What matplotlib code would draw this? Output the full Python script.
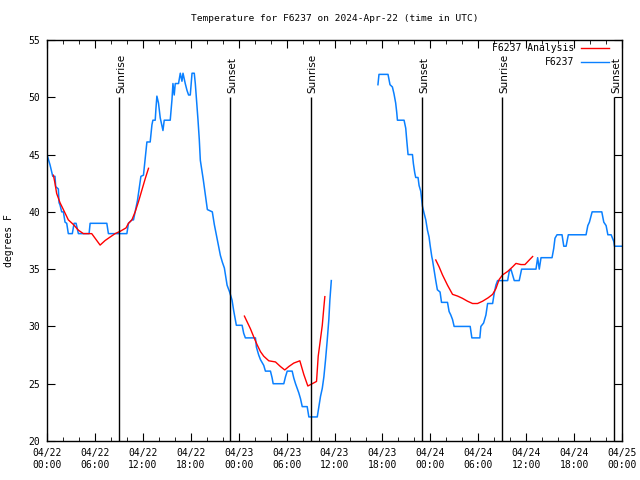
import numpy as np
import pandas as pd
import matplotlib
matplotlib.use("Agg")
import matplotlib.pyplot as plt
import matplotlib.dates as mdates
from matplotlib.lines import Line2D

nan = float("nan")
start = pd.Timestamp("2024-04-22 00:00")

# observed station temps (hours after start, degF); nan = data gap
blue_hours = [0.00, 0.38, 0.59, 0.72, 1.00, 1.09, 1.42, 1.51, 1.63, 1.84, 2.05, 2.26, 2.47, 2.67,
              3.17, 3.39, 3.64, 3.93, 5.27, 5.40, 7.49, 7.69, 10.0, 10.2, 10.63, 10.83, 11.04,
              11.33, 11.58, 11.76, 12.08, 12.30, 12.51, 12.92, 13.14, 13.26, 13.55, 13.64, 13.76,
              13.96, 14.18, 14.52, 14.68, 15.43, 15.65, 15.77, 15.93, 16.06, 16.47, 16.69, 16.90,
              17.03, 17.31, 17.53, 17.73, 17.94, 18.16, 18.44, 18.57, 18.78, 18.91, 19.07, 19.20,
              19.57, 19.82, 20.08, 20.70, 20.95, 21.20, 21.46, 21.71, 21.96, 22.21, 22.55, 22.87,
              23.17, 23.37, 23.71, 24.43, 24.63, 24.84, 26.10, 26.22, 26.51, 26.73, 27.14, 27.35,
              27.98, 28.19, 28.32, 29.65, 29.86, 30.08, 30.70, 30.90, 31.12, 31.33, 31.53, 31.74,
              31.96, 32.58, 32.79, 33.84, 34.04, 34.25, 34.47, 34.67, 34.88, 35.09, 35.29, 35.42,
              35.60,
              38.0,
              41.44, 41.57, 42.70, 42.95, 43.25, 43.45, 43.66, 43.79, 43.88, 44.71, 44.92, 45.04,
              45.21, 45.76, 45.88, 46.05, 46.17, 46.46, 46.59, 46.80, 46.93, 47.01, 47.21, 47.43,
              47.64, 47.84, 47.97, 48.18, 48.27, 48.47, 48.68, 48.88, 49.22, 49.40, 50.15, 50.35,
              50.56, 50.78, 50.98, 52.99, 53.20, 54.20, 54.33, 54.67, 54.96, 55.17, 55.80, 56.00,
              56.21, 56.42, 57.68, 57.88, 58.09, 58.30, 58.51, 59.13, 59.43, 61.23, 61.44, 61.64,
              61.86, 63.24, 63.45, 63.61, 63.86, 64.49, 64.71, 65.00, 65.28, 67.50, 67.72, 67.92,
              68.26, 69.47, 69.72, 70.01, 70.23, 70.64, 70.98, 71.06, 72.0]
blue_temps = [45.0, 44.1, 43.5, 43.1, 43.1, 42.2, 42.0, 40.8, 40.6, 40.0, 40.0, 39.1, 39.0, 38.1,
              38.1, 39.0, 39.0, 38.1, 38.1, 39.0, 39.0, 38.1, 38.1, 39.0, 39.3, 39.3, 40.0,
              41.0, 42.2, 43.1, 43.2, 44.7, 46.1, 46.1, 47.6, 48.0, 48.0, 49.0, 50.1,
              49.5, 48.2, 47.1, 48.0, 48.0, 49.8, 51.2, 50.2, 51.2, 51.2, 52.1, 51.4,
              52.1, 51.2, 50.6, 50.2, 50.2, 52.1, 52.1, 51.2, 49.2, 48.0, 46.3, 44.5,
              42.8, 41.5, 40.2, 40.0, 38.9, 38.0, 37.1, 36.2, 35.6, 35.1, 33.6, 33.0,
              32.3, 31.4, 30.1, 30.1, 29.4, 29.0, 29.0, 28.2, 27.5, 27.1, 26.6, 26.1,
              26.1, 25.5, 25.0, 25.0, 25.6, 26.1, 26.1, 25.5, 25.0, 24.6, 24.2, 23.7,
              23.0, 23.0, 22.1, 22.1, 23.0, 23.9, 24.6, 25.6, 27.1, 28.8, 30.6, 32.3,
              34.0,
              nan,
              51.1, 52.0, 52.0, 51.1, 50.9, 50.3, 49.5, 48.7, 48.0, 48.0, 47.3, 46.3,
              45.0, 45.0, 44.2, 43.4, 43.0, 43.0, 42.3, 41.8, 41.0, 40.5, 39.9, 39.3,
              38.4, 37.8, 37.1, 36.1, 35.8, 34.9, 34.0, 33.2, 33.0, 32.1, 32.1, 31.3,
              31.0, 30.6, 30.0, 30.0, 29.0, 29.0, 30.0, 30.3, 31.0, 32.0, 32.0, 32.9,
              33.6, 34.0, 34.0, 34.8, 35.0, 34.5, 34.0, 34.0, 35.0, 35.0, 36.0, 35.0,
              36.0, 36.0, 36.8, 37.7, 38.0, 38.0, 37.0, 37.0, 38.0, 38.0, 38.8, 39.1,
              40.0, 40.0, 39.1, 38.8, 38.0, 38.0, 37.4, 37.0, 37.0]

# analysis series (three runs separated by gaps)
red_hours = [0.80, 1.00, 1.21, 1.63, 2.05, 2.67, 3.30, 3.93, 4.55, 5.60, 6.02, 6.65, 7.28, 7.90,
             8.53, 9.16, 9.90, 10.20, 10.63, 11.04, 11.46, 11.88, 12.30, 12.71,
             18.0,
             24.72, 25.06, 25.47, 25.88, 26.31, 26.73, 27.14, 27.77, 28.61, 29.23, 29.77, 30.28,
             30.90, 31.66, 32.16, 32.66, 33.21, 33.75, 33.96, 34.17, 34.47, 34.67, 34.79,
             40.0,
             48.68, 49.10, 49.52, 50.15, 50.78, 51.41, 52.03, 52.66, 53.29, 53.91, 54.54, 55.24,
             55.80, 56.21, 56.62, 57.05, 57.68, 58.30, 58.72, 59.35, 59.85, 60.39, 60.81]
red_temps = [43.2, 42.5, 41.6, 40.8, 40.2, 39.3, 38.9, 38.4, 38.1, 38.1, 37.7, 37.1, 37.5, 37.8,
             38.1, 38.3, 38.6, 39.0, 39.3, 40.0, 40.9, 41.9, 42.9, 43.8,
             nan,
             30.9, 30.4, 29.8, 29.1, 28.4, 27.8, 27.4, 27.0, 26.9, 26.5, 26.2, 26.5,
             26.8, 27.0, 25.8, 24.8, 25.0, 25.2, 27.4, 28.5, 30.1, 31.7, 32.6,
             nan,
             35.8, 35.2, 34.5, 33.6, 32.8, 32.65, 32.45, 32.2, 32.0, 32.0, 32.2, 32.5,
             32.8, 33.3, 34.1, 34.5, 34.8, 35.2, 35.5, 35.4, 35.4, 35.8, 36.1]

sun_times = ["2024-04-22 09:02", "2024-04-22 22:57", "2024-04-23 09:00",
             "2024-04-23 22:58", "2024-04-24 08:59", "2024-04-24 22:59"]
sun_labels = ["Sunrise", "Sunset", "Sunrise", "Sunset", "Sunrise", "Sunset"]

blue_t = start + pd.to_timedelta(blue_hours, unit="h")
red_t = start + pd.to_timedelta(red_hours, unit="h")
sun_t = pd.to_datetime(sun_times)

mono = "DejaVu Sans Mono"
blue = "#0a80ff"
fig = plt.figure(figsize=(6.4, 4.8), dpi=100)
ax = fig.add_axes([47 / 640, 39 / 480, 575 / 640, 401 / 480])

ax.plot(blue_t, blue_temps, color=blue, lw=1.1)
ax.plot(red_t, red_temps, color="red", lw=1.0)

ax.vlines(sun_t, 20, 50, color="black", lw=1.0)
for t, lab in zip(sun_t, sun_labels):
    ax.annotate(lab, (t, 50), xytext=(1.5, 3), textcoords="offset points",
                rotation=90, ha="center", va="bottom", fontsize=7.5, family="DejaVu Sans")

ax.set_xlim(start, start + pd.Timedelta(hours=72))
ax.set_ylim(20, 55)
ax.set_yticks(range(20, 56, 5))
ax.xaxis.set_major_locator(mdates.HourLocator(byhour=[0, 6, 12, 18]))
ax.xaxis.set_minor_locator(mdates.HourLocator(interval=2))
ax.xaxis.set_major_formatter(mdates.DateFormatter("%m/%d\n%H:%M"))
ax.tick_params(which="both", direction="in", top=True, right=True, labelsize=7, pad=5)
ax.tick_params(which="major", length=6)
ax.tick_params(which="minor", length=3)
for lab in ax.get_xticklabels() + ax.get_yticklabels():
    lab.set_family(mono)
for sp in ax.spines.values():
    sp.set_linewidth(1.0)

ax.set_ylabel("degrees F", family=mono, fontsize=7, labelpad=10)
ax.set_title("Temperature for F6237 on 2024-Apr-22 (time in UTC)", family=mono, fontsize=6.8, pad=14)

# gnuplot style key: right-aligned text followed by line sample
key = [("F6237 Analysis", "red"), ("F6237", blue)]
for i, (name, col) in enumerate(key):
    yk = 0.980 - i * 0.035
    ax.text(0.917, yk, name, transform=ax.transAxes, ha="right", va="center",
            family=mono, fontsize=7)
    ax.add_line(Line2D([0.929, 0.977], [yk, yk], transform=ax.transAxes, color=col, lw=1.0))

fig.savefig("out.png", dpi=100)
